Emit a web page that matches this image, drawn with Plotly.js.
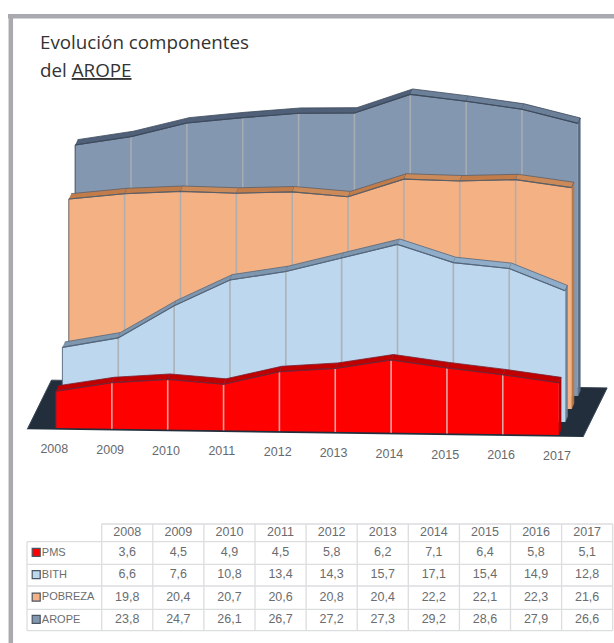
<!DOCTYPE html>
<html>
<head>
<meta charset="utf-8">
<script src="https://cdn.plot.ly/plotly-3.0.1.min.js"></script>
<style>html,body{margin:0;padding:0;background:#fff}#chart{width:614px;height:643px}</style>
</head>
<body>
<div id="chart"></div>
<script>
// Series values, percent of population
const years = [2008, 2009, 2010, 2011, 2012, 2013, 2014, 2015, 2016, 2017];
const pms = [3.6, 4.5, 4.9, 4.5, 5.8, 6.2, 7.1, 6.4, 5.8, 5.1];
const bith = [6.6, 7.6, 10.8, 13.4, 14.3, 15.7, 17.1, 15.4, 14.9, 12.8];
const pobreza = [19.8, 20.4, 20.7, 20.6, 20.8, 20.4, 22.2, 22.1, 22.3, 21.6];
const arope = [23.8, 24.7, 26.1, 26.7, 27.2, 27.3, 29.2, 28.6, 27.9, 26.6];
const seriesNames = ['PMS', 'BITH', 'POBREZA', 'AROPE'];
const seriesValues = [pms, bith, pobreza, arope];

// Colours per series: face, top strip rising, top strip falling, outline
const faceColors = ['#ff0000', '#bdd7ee', '#f4b183', '#8497b0'];
const stripUp = ['#c00000', '#7f97ae', '#c27c4a', '#4f6078'];
const stripDown = ['#c00000', '#8fadc8', '#cc8a58', '#6b7f98'];
const wallColors = ['#a80000', '#6f8296', '#b87848', '#5a6a80'];
const outlines = ['#7a2030', '#55677c', '#5d5f66', '#3d4a5c'];
const dropColor = 'rgba(170,174,178,0.9)';
const dropColorFront = 'rgba(215,175,175,0.95)';

// Oblique projection expressed in axis units
const YEAR_PX = 55.85;
const VALUE_PX = 10.25;
const DEPTH_X = 6.4 / YEAR_PX;    // sideways shift per series row
const DEPTH_Y = 13 / VALUE_PX;    // upward shift per series row
const ROLL = 0.78 / VALUE_PX;     // slight tilt of the base along the years
const STRIP_X = 2.4 / YEAR_PX;    // thickness of the top strip
const STRIP_Y = 5.4 / VALUE_PX;

const project = (i, depth, v) => [i + DEPTH_X * depth, v - ROLL * i + DEPTH_Y * depth];

const traces = [];
function polygon(points, fill, line, width) {
  traces.push({
    type: 'scatter', mode: 'lines', hoverinfo: 'skip',
    x: points.map(p => p[0]), y: points.map(p => p[1]),
    fill: 'toself', fillcolor: fill,
    line: {color: line || fill, width: width === undefined ? 0.8 : width}
  });
}
function path(points, color, width) {
  traces.push({
    type: 'scatter', mode: 'lines', hoverinfo: 'skip',
    x: points.map(p => p[0]), y: points.map(p => p[1]),
    line: {color: color, width: width}
  });
}

// Floor slab
const floor = [project(-0.5, -0.13, 0), project(-0.5, 3.65, 0), project(9.45, 3.65, 0), project(9.45, -0.13, 0)];
polygon(floor, '#222e3c', '#3a4654', 1);

// Areas are painted from the back row to the front row
for (let d = 3; d >= 0; d--) {
  const vals = seriesValues[d];
  const top = vals.map((v, i) => project(i, d, v));
  const back = top.map(p => [p[0] + STRIP_X, p[1] + STRIP_Y]);
  const last = vals.length - 1;
  const base = project(last, d, 0);
  const first = project(0, d, 0);

  // side wall at the last year
  polygon([top[last], back[last], [base[0] + STRIP_X, base[1] + STRIP_Y], base], wallColors[d], wallColors[d], 0.6);
  // front face
  polygon([first, ...top, base], faceColors[d], faceColors[d], 0.5);
  // drop lines on the face
  for (let i = 1; i < last; i++) {
    path([top[i], project(i, d, 0)], d === 0 ? dropColorFront : dropColor, 1.6);
  }
  // top strip, one panel per year interval
  for (let i = 0; i < last; i++) {
    const color = vals[i + 1] > vals[i] ? stripUp[d] : stripDown[d];
    polygon([top[i], top[i + 1], back[i + 1], back[i]], color, outlines[d], 0.8);
  }
  path([first, top[0]], outlines[d], 0.9);
  path(top, outlines[d], 1.1);
}

// Year labels along the base
traces.push({
  type: 'scatter', mode: 'text', hoverinfo: 'skip',
  x: years.map((_, i) => project(i - 0.03, 0, -2.15)[0]),
  y: years.map((_, i) => project(i - 0.03, 0, -2.15)[1]),
  text: years.map(String), textposition: 'middle center',
  textfont: {family: 'Liberation Sans', size: 12.5, color: '#666a6e'}
});

// Data table, laid out on its own pixel-scaled axes
const colEdges = [101.7, 152.8, 203.9, 255, 306.1, 357.2, 408.3, 459.4, 510.5, 561.6, 612.7];
const rowEdges = [524, 541.7, 564.3, 586, 609.3, 630.7];
const tableLeft = 27;
const gridX = [], gridY = [];
colEdges.forEach(x => { gridX.push(x, x, null); gridY.push(rowEdges[0], rowEdges[5], null); });
gridX.push(tableLeft, tableLeft, null); gridY.push(rowEdges[1], rowEdges[5], null);
rowEdges.forEach((y, r) => { gridX.push(r === 0 ? colEdges[0] : tableLeft, colEdges[10], null); gridY.push(y, y, null); });
traces.push({
  type: 'scatter', mode: 'lines', xaxis: 'x2', yaxis: 'y2', hoverinfo: 'skip',
  x: gridX, y: gridY, line: {color: '#dcdddf', width: 1.3}
});
const colCenter = c => (colEdges[c] + colEdges[c + 1]) / 2;
const rowCenter = r => (rowEdges[r] + rowEdges[r + 1]) / 2;
const tableFont = {family: 'Liberation Sans', size: 12.5, color: '#6a6d70'};
traces.push({
  type: 'scatter', mode: 'text', xaxis: 'x2', yaxis: 'y2', hoverinfo: 'skip',
  x: years.map((_, c) => colCenter(c)), y: years.map(() => rowCenter(0)),
  text: years.map(String), textposition: 'middle center', textfont: tableFont
});
seriesValues.forEach((vals, r) => {
  traces.push({
    type: 'scatter', mode: 'text', xaxis: 'x2', yaxis: 'y2', hoverinfo: 'skip',
    x: vals.map((_, c) => colCenter(c)), y: vals.map(() => rowCenter(r + 1)),
    text: vals.map(v => v.toFixed(1).replace('.', ',')),
    textposition: 'middle center', textfont: tableFont
  });
  traces.push({
    type: 'scatter', mode: 'markers', xaxis: 'x2', yaxis: 'y2', hoverinfo: 'skip',
    x: [36.2], y: [rowCenter(r + 1) - 0.6],
    marker: {symbol: 'square', size: 8, color: faceColors[r], line: {color: '#4a5563', width: 1.2}}
  });
  traces.push({
    type: 'scatter', mode: 'text', xaxis: 'x2', yaxis: 'y2', hoverinfo: 'skip',
    x: [41.8], y: [rowCenter(r + 1)], text: [seriesNames[r]], textposition: 'middle right',
    textfont: {family: 'Liberation Sans', size: 11, color: '#6a6d70'}
  });
});

const hidden = {visible: false, fixedrange: true};
const titleFont = {family: 'Open Sans', size: 18.8, color: '#333333'};
const layout = {
  width: 614, height: 643,
  margin: {l: 0, r: 0, t: 0, b: 0},
  paper_bgcolor: '#ffffff', plot_bgcolor: 'rgba(0,0,0,0)',
  showlegend: false,
  xaxis: {...hidden, domain: [0, 1], range: [-56 / YEAR_PX, 558 / YEAR_PX]},
  yaxis: {...hidden, domain: [0, 1], range: [-215 / VALUE_PX, 428 / VALUE_PX]},
  xaxis2: {...hidden, domain: [0, 1], range: [0, 614], anchor: 'y2', overlaying: 'x'},
  yaxis2: {...hidden, domain: [0, 1], range: [643, 0], anchor: 'x2', overlaying: 'y'},
  shapes: [
    {type: 'line', xref: 'x2', yref: 'y2', x0: 8, x1: 614, y0: 16.2, y1: 16.2, line: {color: '#a9aab0', width: 4.5}},
    {type: 'line', xref: 'x2', yref: 'y2', x0: 10.8, x1: 10.8, y0: 14, y1: 643, line: {color: '#a9aab0', width: 4.5}}
  ],
  annotations: [
    {xref: 'x2', yref: 'y2', x: 37.5, y: 42, text: 'Evolución componentes', showarrow: false, xanchor: 'left', yanchor: 'middle', font: titleFont},
    {xref: 'x2', yref: 'y2', x: 37.5, y: 69.5, text: 'del <u>AROPE</u>', showarrow: false, xanchor: 'left', yanchor: 'middle', font: titleFont}
  ]
};
Plotly.newPlot('chart', traces, layout, {staticPlot: true, displayModeBar: false});
</script>
</body>
</html>
